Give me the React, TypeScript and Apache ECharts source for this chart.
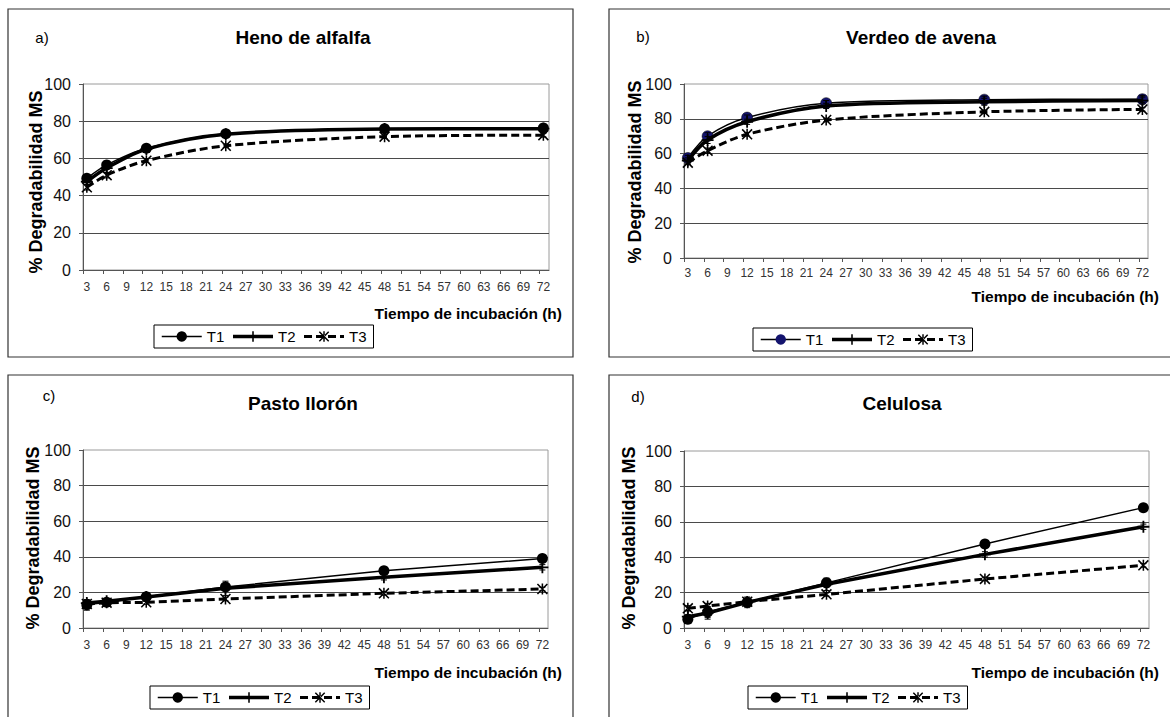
import React, { useEffect, useRef } from "react";
import * as echarts from "echarts";

// ---------- data ----------
const HOURS = [3, 6, 12, 24, 48, 72];
const X_TICK_LABELS = [3, 6, 9, 12, 15, 18, 21, 24, 27, 30, 33, 36, 39, 42, 45, 48, 51, 54, 57, 60, 63, 66, 69, 72];
const SERIES_NAMES = ["T1", "T2", "T3"];
const PANEL_TITLES = ["Heno de alfalfa", "Verdeo de avena", "Pasto llorón", "Celulosa"];
const PANEL_LETTERS = ["a)", "b)", "c)", "d)"];
const Y_TITLE = "% Degradabilidad MS";
const X_TITLE = "Tiempo de incubación (h)";

const henoT1 = [49.3, 56.5, 65.5, 73.3, 76, 76.3];
const henoT2 = [47.5, 54.8, 65, 73, 75.8, 76];
const henoT3 = [44.5, 51, 58.8, 66.8, 71.7, 72.5];

const avenaT1 = [57.5, 70, 80.7, 89, 91, 91.3];
const avenaT2 = [56, 67.8, 78.3, 87.4, 89.8, 90.5];
const avenaT3 = [54.8, 61.7, 71.1, 79.3, 84, 85.4];

const pastoT1 = [13, 14.5, 17.5, 23, 32.2, 39];
const pastoT2 = [14, 15, 17.4, 22.3, 28.5, 34.1];
const pastoT3 = [13.5, 14.2, 14.4, 16.3, 19.5, 21.9];

const celulosaT1 = [5, 9, 14.5, 25.5, 47.5, 68];
const celulosaT2 = [6.4, 8.5, 14.5, 24.7, 41.6, 57.2];
const celulosaT3 = [11.1, 12.4, 14.9, 19, 27.7, 35.4];

// standard errors (symmetric error bars)
const henoErrT1 = [1.5, 2, 1, 1, 1.5, 2];
const henoErrT2 = [1.5, 2.5, 1.5, 1, 1.5, 2];
const henoErrT3 = [1.5, 1.5, 1, 1, 1, 1];
const avenaErrT1 = [1.5, 2, 1.5, 1.5, 2, 2];
const avenaErrT2 = [1.5, 2, 1.5, 1.5, 2, 2];
const avenaErrT3 = [1, 1.5, 1, 1, 1, 1];
const pastoErrT1 = [3, 1.5, 1.5, 1.5, 1, 1];
const pastoErrT2 = [1.5, 1.5, 2.5, 4, 1.5, 1.5];
const pastoErrT3 = [1, 1, 1, 1, 1, 1];
const celulosaErrT1 = [2.5, 3, 2, 2, 1.5, 1.5];
const celulosaErrT2 = [3.5, 3.5, 3, 3.5, 1.5, 1.5];
const celulosaErrT3 = [1.5, 1.5, 1.5, 1, 1, 1];

const PANEL_VALUES = [
  [henoT1, henoT2, henoT3],
  [avenaT1, avenaT2, avenaT3],
  [pastoT1, pastoT2, pastoT3],
  [celulosaT1, celulosaT2, celulosaT3],
];
const PANEL_ERRORS = [
  [henoErrT1, henoErrT2, henoErrT3],
  [avenaErrT1, avenaErrT2, avenaErrT3],
  [pastoErrT1, pastoErrT2, pastoErrT3],
  [celulosaErrT1, celulosaErrT2, celulosaErrT3],
];
const PANEL_SMOOTH = [true, true, false, false];

// ---------- layout / style ----------
const FONT = '"Liberation Sans", Arial, Helvetica, sans-serif';
const NAVY = "#14146e";
const LAYOUT = [
  { grid: { left: 83, top: 84, width: 466, height: 186 }, labelMargin: 11, box: [8, 9, 565, 348], title: [303, 37], letter: [42, 37], yTitle: [36, 182], xTitle: [562, 313], legend: [154, 325] },
  { grid: { left: 684, top: 84, width: 464, height: 174 }, labelMargin: 9, box: [609, 9, 580, 348], title: [921, 37], letter: [643, 36], yTitle: [635, 172], xTitle: [1159, 296], legend: [753, 328] },
  { grid: { left: 83, top: 450, width: 465, height: 178 }, labelMargin: 11, box: [8, 375, 565, 380], title: [303, 403], letter: [49, 395], yTitle: [33, 538], xTitle: [562, 672], legend: [150, 686] },
  { grid: { left: 684, top: 451, width: 465, height: 177 }, labelMargin: 11, box: [609, 375, 580, 380], title: [902, 403], letter: [638, 396], yTitle: [629, 538], xTitle: [1159, 672], legend: [748, 686] },
];
const X_MIN = 2.42;
const X_MAX = 72.85;
const TICK_SHIFT = 0.55;

const PLUS = "path://M4.25,0H5.75V4.25H10V5.75H5.75V10H4.25V5.75H0V4.25H4.25Z";
const STAR = "path://M4.3,0H5.7V10H4.3Z M0,1L1,0L10,9L9,10Z M10,1L9,0L0,9L1,10Z";

export default function App() {
  const ref = useRef<HTMLDivElement>(null);

  useEffect(() => {
    if (!ref.current) return;
    const chart = echarts.init(ref.current, null, { renderer: "svg" });

    const grids: any[] = [];
    const xAxes: any[] = [];
    const yAxes: any[] = [];
    const series: any[] = [];
    const legends: any[] = [];
    const graphics: any[] = [];

    LAYOUT.forEach((L, p) => {
      grids.push({ ...L.grid, show: true, borderColor: "#9a9a9a", borderWidth: 1, backgroundColor: "transparent" });
      xAxes.push({
        type: "value",
        gridIndex: p,
        min: X_MIN,
        max: X_MAX,
        axisLine: { show: true, onZero: false, lineStyle: { color: "#555", width: 1 } },
        axisTick: {
          show: true,
          length: 4,
          lineStyle: { color: "#555" },
          customValues: X_TICK_LABELS.map((v) => v - TICK_SHIFT),
        },
        axisLabel: {
          customValues: X_TICK_LABELS,
          fontFamily: FONT,
          fontSize: 12,
          color: "#333",
          margin: L.labelMargin,
          formatter: (v: number) => String(Math.round(v)),
        },
        splitLine: { show: false },
      });
      yAxes.push({
        type: "value",
        gridIndex: p,
        min: 0,
        max: 100,
        interval: 20,
        axisLine: { show: true, lineStyle: { color: "#555", width: 1 } },
        axisTick: { show: true, length: 4, lineStyle: { color: "#555" } },
        axisLabel: { fontFamily: FONT, fontSize: 16, color: "#111", margin: 12 },
        splitLine: { show: true, showMaxLine: false, lineStyle: { color: "#4a4a4a", width: 1 } },
      });

      const vals = PANEL_VALUES[p];
      SERIES_NAMES.forEach((name, s) => {
        const base: any = {
          name,
          type: "line",
          xAxisIndex: p,
          yAxisIndex: p,
          data: HOURS.map((h, i) => [h, vals[s][i]]),
          smooth: PANEL_SMOOTH[p] ? 0.3 : false,
          showSymbol: true,
          symbolKeepAspect: true,
          emphasis: { disabled: true },
          z: 2 + s,
        };
        if (s === 0) {
          Object.assign(base, {
            symbol: "circle",
            symbolSize: 11,
            itemStyle: { color: p === 1 ? NAVY : "#000", borderColor: "#000", borderWidth: p === 1 ? 0.5 : 0 },
            lineStyle: { color: "#000", width: 1.5 },
          });
        } else if (s === 1) {
          Object.assign(base, {
            symbol: PLUS,
            symbolSize: 12,
            itemStyle: { color: "#000" },
            lineStyle: { color: "#000", width: 3.5 },
          });
        } else {
          Object.assign(base, {
            symbol: STAR,
            symbolSize: 11,
            itemStyle: { color: "#000" },
            lineStyle: { color: "#000", width: 3, type: [8, 4] },
          });
        }
        series.push(base);

        const errs = PANEL_ERRORS[p][s];
        series.push({
          name: "err-" + p + "-" + name,
          type: "custom",
          xAxisIndex: p,
          yAxisIndex: p,
          z: 6,
          silent: true,
          encode: { x: 0, y: 1 },
          data: HOURS.map((h, i) => [h, vals[s][i], errs[i]]),
          renderItem: (params: any, api: any) => {
            const x = api.value(0);
            const y = api.value(1);
            const e = api.value(2);
            const top = api.coord([x, y + e]);
            const bot = api.coord([x, y - e]);
            const st = { stroke: "#000", lineWidth: 1 };
            return {
              type: "group",
              children: [
                { type: "line", shape: { x1: top[0], y1: top[1], x2: bot[0], y2: bot[1] }, style: st },
                { type: "line", shape: { x1: top[0] - 3, y1: top[1], x2: top[0] + 3, y2: top[1] }, style: st },
                { type: "line", shape: { x1: bot[0] - 3, y1: bot[1], x2: bot[0] + 3, y2: bot[1] }, style: st },
              ],
            };
          },
        });
      });

      legends.push({
        left: L.legend[0],
        top: L.legend[1],
        orient: "horizontal",
        data: p === 1 ? [{ name: "T1", itemStyle: { color: NAVY } }, "T2", "T3"] : SERIES_NAMES,
        itemWidth: 40,
        itemHeight: 13,
        itemGap: 7,
        padding: [4, 7, 4, 7],
        borderColor: "#000",
        borderWidth: 1,
        backgroundColor: "#fff",
        selectedMode: false,
        lineStyle: { width: "inherit", type: "inherit" },
        textStyle: { fontFamily: FONT, fontSize: 15, color: "#000" },
      });

      graphics.push(
        {
          type: "rect",
          shape: { x: L.box[0], y: L.box[1], width: L.box[2], height: L.box[3] },
          style: { fill: "none", stroke: "#333", lineWidth: 1.2 },
          silent: true,
          z: -10,
        },
        {
          type: "text",
          x: L.title[0],
          y: L.title[1],
          style: { text: PANEL_TITLES[p], fontFamily: FONT, fontSize: 19, fontWeight: "bold", fill: "#000", align: "center", verticalAlign: "middle" },
        },
        {
          type: "text",
          x: L.letter[0],
          y: L.letter[1],
          style: { text: PANEL_LETTERS[p], fontFamily: FONT, fontSize: 15, fill: "#000", align: "center", verticalAlign: "middle" },
        },
        {
          type: "text",
          x: L.yTitle[0],
          y: L.yTitle[1],
          rotation: Math.PI / 2,
          style: { text: Y_TITLE, fontFamily: FONT, fontSize: 18, fontWeight: "bold", fill: "#000", align: "center", verticalAlign: "middle" },
        },
        {
          type: "text",
          x: L.xTitle[0],
          y: L.xTitle[1],
          style: { text: X_TITLE, fontFamily: FONT, fontSize: 15.5, fontWeight: "bold", fill: "#000", align: "right", verticalAlign: "middle" },
        }
      );
    });

    chart.setOption({
      animation: false,
      backgroundColor: "#fff",
      grid: grids,
      xAxis: xAxes,
      yAxis: yAxes,
      legend: legends,
      series,
      graphic: graphics,
    });

    return () => chart.dispose();
  }, []);

  return (
    <div
      ref={ref}
      style={{ position: "fixed", left: 0, top: 0, width: 1170, height: 717, background: "#fff" }}
    />
  );
}
